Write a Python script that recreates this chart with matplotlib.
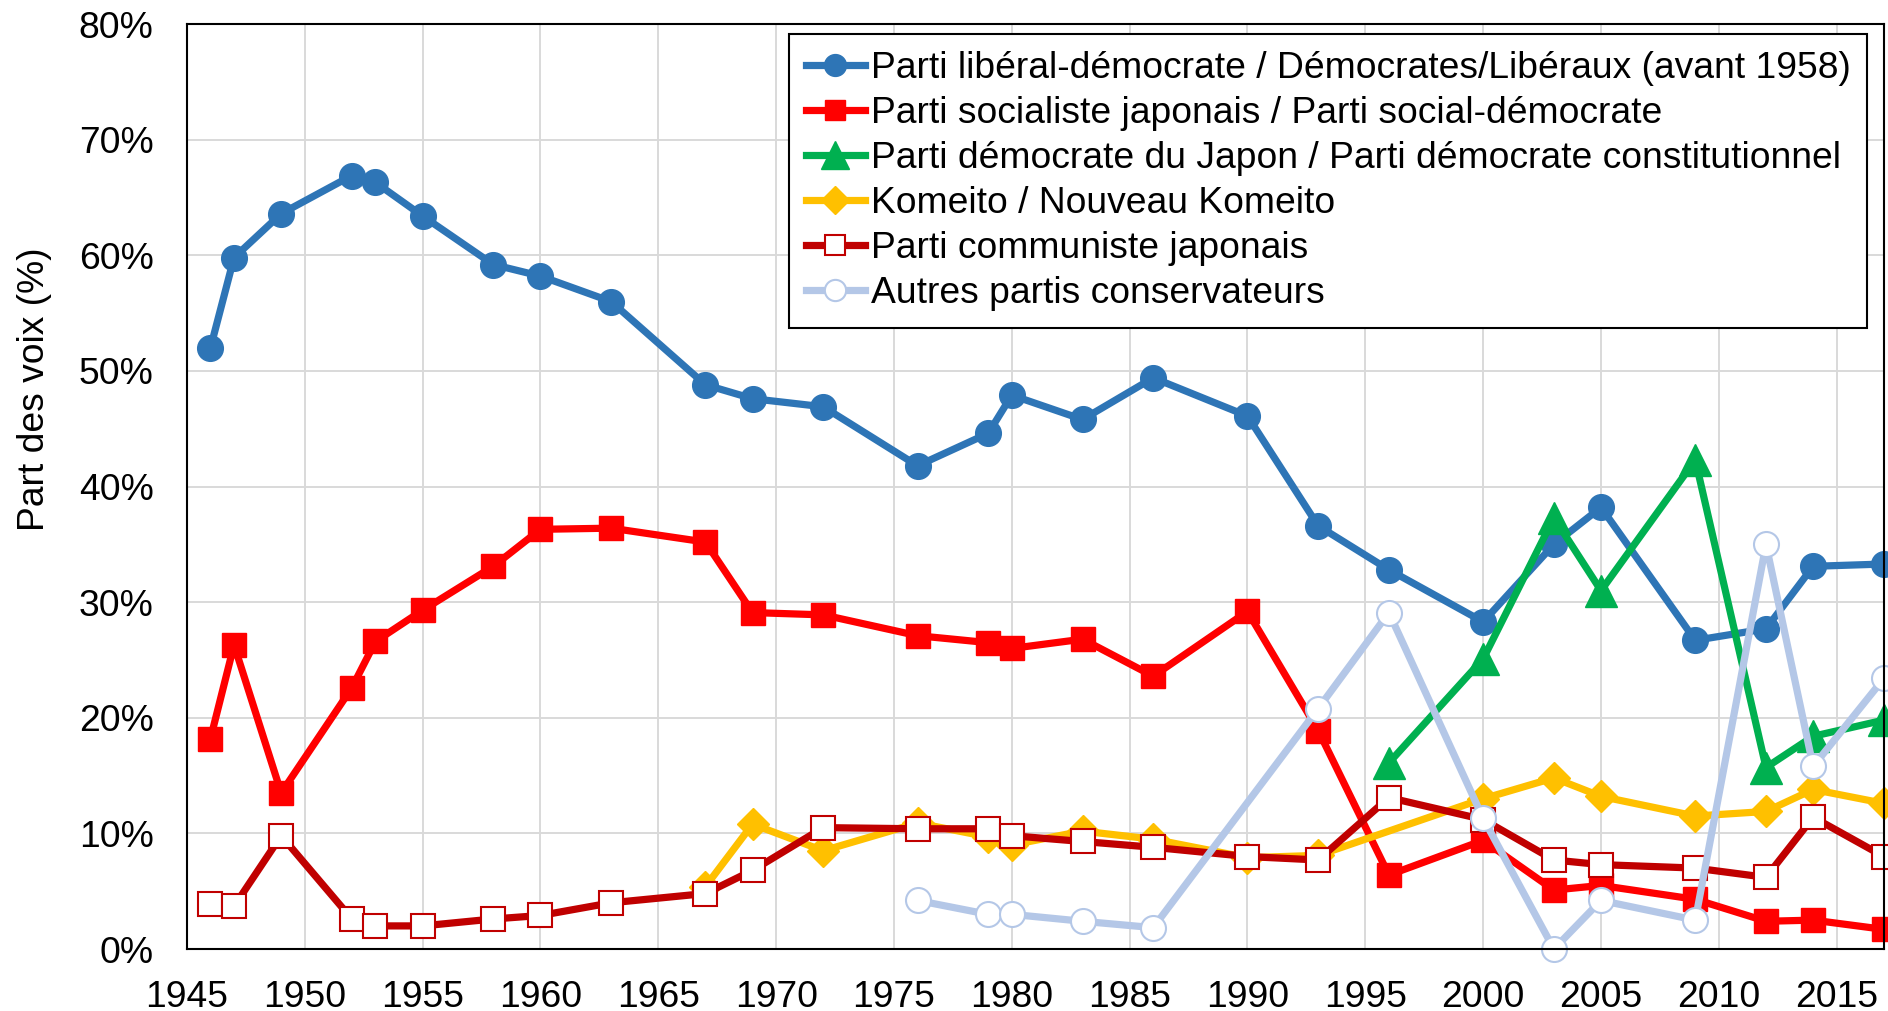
import numpy as np
import matplotlib
matplotlib.use("Agg")
from matplotlib import pyplot as plt
from matplotlib.ticker import FuncFormatter

plt.rcParams['font.family'] = ['Liberation Sans', 'DejaVu Sans']

# Election years
years = [1946, 1947, 1949, 1952, 1953, 1955, 1958, 1960, 1963, 1967, 1969, 1972,
         1976, 1979, 1980, 1983, 1986, 1990, 1993, 1996, 2000, 2003, 2005, 2009,
         2012, 2014, 2017]

# Vote share (%) per party, None = no candidate list that year
ldp = [52.0, 59.8, 63.6, 66.9, 66.3, 63.4, 59.2, 58.2, 56.0, 48.8, 47.6, 46.9,
       41.8, 44.6, 47.9, 45.8, 49.4, 46.1, 36.6, 32.8, 28.3, 35.0, 38.2, 26.7,
       27.7, 33.1, 33.3]
jsp = [18.2, 26.3, 13.5, 22.6, 26.6, 29.3, 33.1, 36.3, 36.4, 35.2, 29.1, 28.9,
       27.1, 26.5, 26.0, 26.8, 23.6, 29.2, 18.9, 6.4, 9.4, 5.1, 5.5, 4.3,
       2.4, 2.5, 1.7]
dpj = [None] * 19 + [16.1, 25.1, 37.3, 31.0, 42.3, 15.7, 18.4, 19.8]
komeito = [None] * 9 + [5.4, 10.8, 8.5, 10.9, 9.7, 9.0, 10.2, 9.5, 7.9, 8.1,
                        None, 13.0, 14.8, 13.2, 11.5, 11.9, 13.8, 12.6]
jcp = [3.9, 3.7, 9.8, 2.6, 2.0, 2.0, 2.6, 2.9, 4.0, 4.8, 6.8, 10.5,
       10.4, 10.4, 9.8, 9.3, 8.8, 8.0, 7.7, 13.1, 11.2, 7.7, 7.3, 7.0,
       6.2, 11.4, 8.0]
others = [None] * 12 + [4.2, 3.0, 3.0, 2.4, 1.85, None, 20.8, 29.1, 11.3, 0.0,
                        4.2, 2.5, 35.0, 15.8, 23.4]

labels = ["Parti libéral-démocrate / Démocrates/Libéraux (avant 1958)",
          "Parti socialiste japonais / Parti social-démocrate",
          "Parti démocrate du Japon / Parti démocrate constitutionnel",
          "Komeito / Nouveau Komeito",
          "Parti communiste japonais",
          "Autres partis conservateurs"]

FS = 26.8

fig = plt.figure(figsize=(18.88, 10.11), dpi=100)
ax = fig.add_axes([0.0990, 0.0613, 0.8988, 0.9149])


def draw(values, label, color, marker, ms, mfc, mec, mew):
    x = np.array(years, dtype=float)
    y = np.array([np.nan if v is None else v for v in values], dtype=float)
    ok = ~np.isnan(y)
    # connect across missing elections
    ax.plot(x[ok], y[ok], color=color, lw=5.2, marker=marker, ms=ms,
            mfc=mfc, mec=mec, mew=mew, label=label, clip_on=False)


draw(ldp, labels[0], '#2E75B6', 'o', 18.5, '#2E75B6', '#2E75B6', 1)
draw(jsp, labels[1], '#FF0000', 's', 17.5, '#FF0000', '#FF0000', 1)
draw(dpj, labels[2], '#00B050', '^', 23, '#00B050', '#00B050', 1)
draw(komeito, labels[3], '#FFC000', 'D', 16.5, '#FFC000', '#FFC000', 1)
draw(jcp, labels[4], '#C00000', 's', 17, 'white', '#C00000', 1.5)
draw(others, labels[5], '#B4C7E7', 'o', 18, 'white', '#B4C7E7', 1.5)

ax.set_xlim(1945, 2017)
ax.set_ylim(0, 80)
ax.set_xticks(np.arange(1945, 2016, 5))
ax.set_yticks(np.arange(0, 81, 10))
ax.yaxis.set_major_formatter(FuncFormatter(lambda v, p: f"{v:.0f}%"))
ax.tick_params(axis='x', length=0, pad=22, labelsize=FS)
ax.tick_params(axis='y', length=0, pad=24, labelsize=FS)
ax.grid(True, color='#d9d9d9', lw=1.4)
ax.set_axisbelow(True)
for s in ax.spines.values():
    s.set_color('black')
    s.set_linewidth(1.5)

ax.set_ylabel("Part des voix (%)", fontsize=FS)
ax.yaxis.set_label_coords(-0.0796, 0.605)

leg = ax.legend(loc='upper right', bbox_to_anchor=(0.989, 0.966),
                bbox_transform=fig.transFigure, borderaxespad=0,
                fontsize=FS, fancybox=False, framealpha=1, edgecolor='black',
                handlelength=1.6, handletextpad=0.15, labelspacing=0.27,
                borderpad=0.45, markerscale=0.85)
leg.get_frame().set_linewidth(1.5)

fig.savefig("out.png", dpi=100)
